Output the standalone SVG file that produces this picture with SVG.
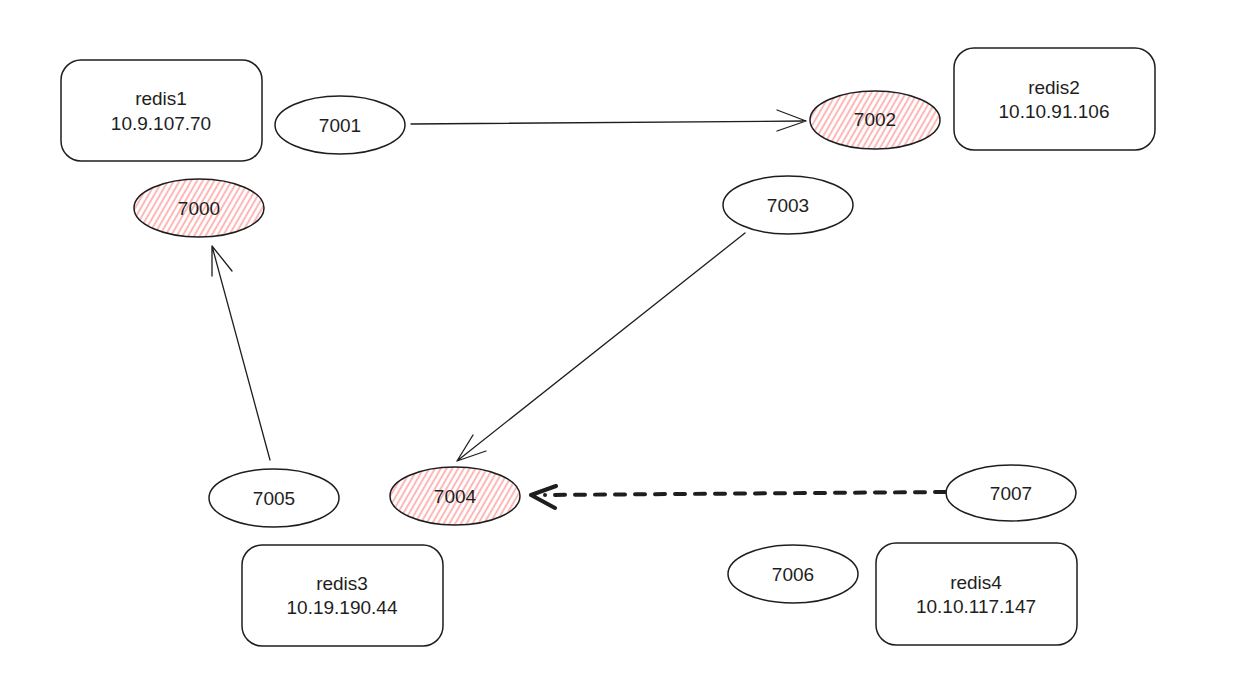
<svg xmlns="http://www.w3.org/2000/svg" width="1243" height="681" viewBox="0 0 1243 681">
<style>
.box{fill:#fff;stroke:#1e1e1e;stroke-width:1.5}
.ell{fill:#fff;stroke:#1e1e1e;stroke-width:1.5}
.hot{fill:url(#hatch);stroke:#1e1e1e;stroke-width:1.5}
text{font-family:"Liberation Sans",Arial,sans-serif;font-size:19px;fill:#1e1e1e;text-anchor:middle;dominant-baseline:central}
.conn{fill:none;stroke:#1e1e1e;stroke-width:1.3;stroke-linecap:round;stroke-linejoin:round}
.dash{fill:none;stroke:#1e1e1e;stroke-width:4;stroke-linecap:round;stroke-dasharray:10 10}
.head{fill:none;stroke:#1e1e1e;stroke-width:4;stroke-linecap:round;stroke-linejoin:round}
</style>
<defs>
<pattern id="hatch" patternUnits="userSpaceOnUse" width="5" height="5" patternTransform="rotate(30)">
<rect width="5" height="5" fill="#fff"/>
<line x1="1" y1="0" x2="1" y2="5" stroke="#ff9a9a" stroke-width="1.4"/>
</pattern>
</defs>
<rect width="1243" height="681" fill="#fff"/>
<g id="redis1"><rect class="box" x="61" y="60" width="201" height="101" rx="20"/><text x="161" y="98">redis1</text><text x="161" y="123">10.9.107.70</text></g>
<g id="redis2"><rect class="box" x="954" y="48" width="201" height="102" rx="20"/><text x="1054" y="87">redis2</text><text x="1054" y="111">10.10.91.106</text></g>
<g id="redis3"><rect class="box" x="242" y="545" width="201" height="101" rx="20"/><text x="342" y="583">redis3</text><text x="342" y="607">10.19.190.44</text></g>
<g id="redis4"><rect class="box" x="876" y="543" width="201" height="102" rx="20"/><text x="976" y="582">redis4</text><text x="976" y="606">10.10.117.147</text></g>
<g id="n7000"><ellipse class="hot" cx="199" cy="208" rx="65" ry="29"/><text x="199" y="208">7000</text></g>
<g id="n7001"><ellipse class="ell" cx="340" cy="125" rx="65" ry="29"/><text x="340" y="125">7001</text></g>
<g id="n7002"><ellipse class="hot" cx="875" cy="120" rx="65" ry="29"/><text x="875" y="119">7002</text></g>
<g id="n7003"><ellipse class="ell" cx="788" cy="205" rx="65" ry="29"/><text x="788" y="205">7003</text></g>
<g id="n7004"><ellipse class="hot" cx="455" cy="496" rx="65" ry="29"/><text x="455" y="496">7004</text></g>
<g id="n7005"><ellipse class="ell" cx="274" cy="498" rx="65" ry="29"/><text x="274" y="498">7005</text></g>
<g id="n7006"><ellipse class="ell" cx="793" cy="574" rx="65" ry="29"/><text x="793" y="574">7006</text></g>
<g id="n7007"><ellipse class="ell" cx="1011" cy="493" rx="65" ry="28"/><text x="1011" y="493">7007</text></g>
<g id="connectors">
<path class="conn" d="M411 124 L806 121 M777 110 L806 121 L777 131"/>
<path class="conn" d="M745 233 L457 461 M473 435 L457 461 L486 451"/>
<path class="conn" d="M270 460 L212 246 M212 276 L212 246 L232 271"/>
<path class="dash" d="M945 492 L545 495"/>
<path class="head" d="M556 486 L531 495 L555 508"/>
</g>
</svg>
